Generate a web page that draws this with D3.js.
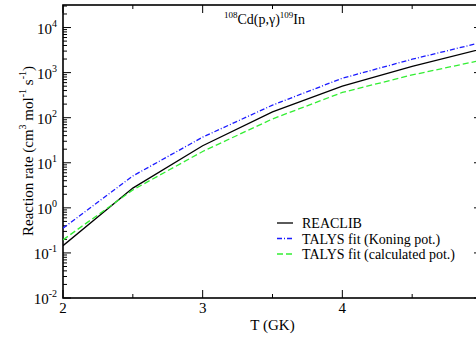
<!DOCTYPE html>
<html>
<head>
<meta charset="utf-8">
<script src="https://cdn.jsdelivr.net/npm/d3@7"></script>
<style>
  body { margin: 0; background: #fff; }
  svg { display: block; font-family: 'Liberation Serif', 'DejaVu Serif', serif; }
</style>
</head>
<body>
<svg id="chart"></svg>
<script>
var width = 476,
    height = 337;

// temperature grid (GK) and rates (cm^3 mol^-1 s^-1)
var temps = [2, 2.5, 3, 3.5, 4, 4.5, 5];
var reaclib = [0.145, 2.74, 23.9, 135, 500, 1380, 3370];
var talysKoning = [0.354, 5.1, 37, 190, 750, 1980, 4700];
var talysCalc = [0.195, 2.5, 17.8, 94, 363, 890, 1890];

var xTicks = [2, 3, 4, 5];
var xTickLabels = ['2', '3', '4', ''];
var xMinor = [2.5, 3.5, 4.5];
var yExps = [-2, -1, 0, 1, 2, 3, 4];

var seriesNames = ['REACLIB', 'TALYS fit (Koning pot.)', 'TALYS fit (calculated pot.)'];
var seriesColors = ['#000000', '#1a1aff', '#33ee33'];
var seriesDash = [null, '5,2,1,2', '6,3'];

var MARGIN = { LEFT: 63, TOP: 5, RIGHT: -6, BOTTOM: 39 };
var plotW = width - MARGIN.LEFT - MARGIN.RIGHT,
    plotH = height - MARGIN.TOP - MARGIN.BOTTOM;

var xScale = d3.scaleLinear().domain([2, 5]).range([0, plotW]);
var yScale = d3.scaleLog().domain([1e-2, Math.pow(10, 4.5)]).range([plotH, 0]);

var svg = d3.select('#chart')
    .attr('width', width)
    .attr('height', height);

var g = svg.append('g')
    .attr('transform', 'translate(' + MARGIN.LEFT + ',' + MARGIN.TOP + ')');

// minor log ticks
var yMinor = [];
yExps.forEach(function (e) {
    for (var k = 2; k <= 9; k++) {
        var v = k * Math.pow(10, e);
        if (v <= yScale.domain()[1]) yMinor.push(v);
    }
});

// left / right axis ticks (inward)
[[0, 1], [plotW, -1]].forEach(function (p) {
    g.selectAll(null).data(yExps).enter().append('line')
        .attr('x1', p[0]).attr('x2', p[0] + p[1] * 8)
        .attr('y1', function (d) { return yScale(Math.pow(10, d)); })
        .attr('y2', function (d) { return yScale(Math.pow(10, d)); })
        .attr('stroke', '#000').attr('stroke-width', 1);
    g.selectAll(null).data(yMinor).enter().append('line')
        .attr('x1', p[0]).attr('x2', p[0] + p[1] * 4)
        .attr('y1', function (d) { return yScale(d); })
        .attr('y2', function (d) { return yScale(d); })
        .attr('stroke', '#000').attr('stroke-width', 1);
});

// x ticks bottom and top
[[plotH, -1], [0, 1]].forEach(function (p) {
    g.selectAll(null).data(xTicks).enter().append('line')
        .attr('x1', function (d) { return xScale(d); })
        .attr('x2', function (d) { return xScale(d); })
        .attr('y1', p[0]).attr('y2', p[0] + p[1] * 8)
        .attr('stroke', '#000').attr('stroke-width', 1);
    g.selectAll(null).data(xMinor).enter().append('line')
        .attr('x1', function (d) { return xScale(d); })
        .attr('x2', function (d) { return xScale(d); })
        .attr('y1', p[0]).attr('y2', p[0] + p[1] * 4)
        .attr('stroke', '#000').attr('stroke-width', 1);
});

// frame
g.append('rect')
    .attr('width', plotW).attr('height', plotH)
    .attr('fill', 'none').attr('stroke', '#000').attr('stroke-width', 1.6);

// y tick labels 10^n
var yl = g.selectAll('text.ylab').data(yExps).enter().append('text')
    .attr('x', -6)
    .attr('y', function (d) { return yScale(Math.pow(10, d)) + 6; })
    .attr('text-anchor', 'end')
    .style('font-size', '15px');
yl.append('tspan').text('10');
yl.append('tspan').attr('dy', -7).style('font-size', '10px').text(function (d) { return d; });

// x tick labels (5 falls outside the picture)
g.selectAll('text.xlab').data(xTicks.slice(0, 3)).enter().append('text')
    .attr('x', function (d) { return xScale(d); })
    .attr('y', plotH + 15)
    .attr('text-anchor', 'middle')
    .style('font-size', '15px')
    .text(function (d, i) { return xTickLabels[i]; });

// axis titles
g.append('text')
    .attr('x', xScale(3.5))
    .attr('y', plotH + 32)
    .attr('text-anchor', 'middle')
    .style('font-size', '15px')
    .text('T (GK)');

var yt = svg.append('text')
    .attr('transform', 'translate(33,151) rotate(-90)')
    .attr('text-anchor', 'middle')
    .style('font-size', '15px');
yt.append('tspan').text('Reaction rate (cm');
yt.append('tspan').attr('dy', -7).style('font-size', '10px').text('3');
yt.append('tspan').attr('dy', 7).text(' mol');
yt.append('tspan').attr('dy', -7).style('font-size', '10px').text('-1');
yt.append('tspan').attr('dy', 7).text(' s');
yt.append('tspan').attr('dy', -7).style('font-size', '10px').text('-1');
yt.append('tspan').attr('dy', 7).text(')');

// reaction label
var tl = g.append('text')
    .attr('x', 161)
    .attr('y', 19)
    .style('font-size', '14px');
tl.append('tspan').attr('dy', -6).style('font-size', '9px').text('108');
tl.append('tspan').attr('dy', 6).text('Cd(p,\u03b3)');
tl.append('tspan').attr('dy', -6).style('font-size', '9px').text('109');
tl.append('tspan').attr('dy', 6).text('In');

// curves
var clipId = 'plotclip';
g.append('clipPath').attr('id', clipId).append('rect')
    .attr('width', plotW).attr('height', plotH);

var line = d3.line()
    .x(function (d) { return xScale(d[0]); })
    .y(function (d) { return yScale(d[1]); });

var seriesVals = [reaclib, talysKoning, talysCalc];
seriesVals.forEach(function (vals, i) {
    g.append('path')
        .datum(temps.map(function (t, j) { return [t, vals[j]]; }))
        .attr('clip-path', 'url(#' + clipId + ')')
        .attr('fill', 'none')
        .attr('stroke', seriesColors[i])
        .attr('stroke-width', 1.3)
        .attr('stroke-dasharray', seriesDash[i])
        .attr('d', line);
});

// legend
var leg = g.append('g').attr('transform', 'translate(214,218)');
seriesNames.forEach(function (name, i) {
    var row = leg.append('g').attr('transform', 'translate(0,' + (i * 15.5) + ')');
    row.append('line')
        .attr('x1', 0).attr('x2', 16)
        .attr('y1', 0).attr('y2', 0)
        .attr('stroke', seriesColors[i])
        .attr('stroke-width', 1.3)
        .attr('stroke-dasharray', seriesDash[i]);
    row.append('text')
        .attr('x', 25).attr('y', 5)
        .style('font-size', '14px')
        .text(name);
});
</script>
</body>
</html>
